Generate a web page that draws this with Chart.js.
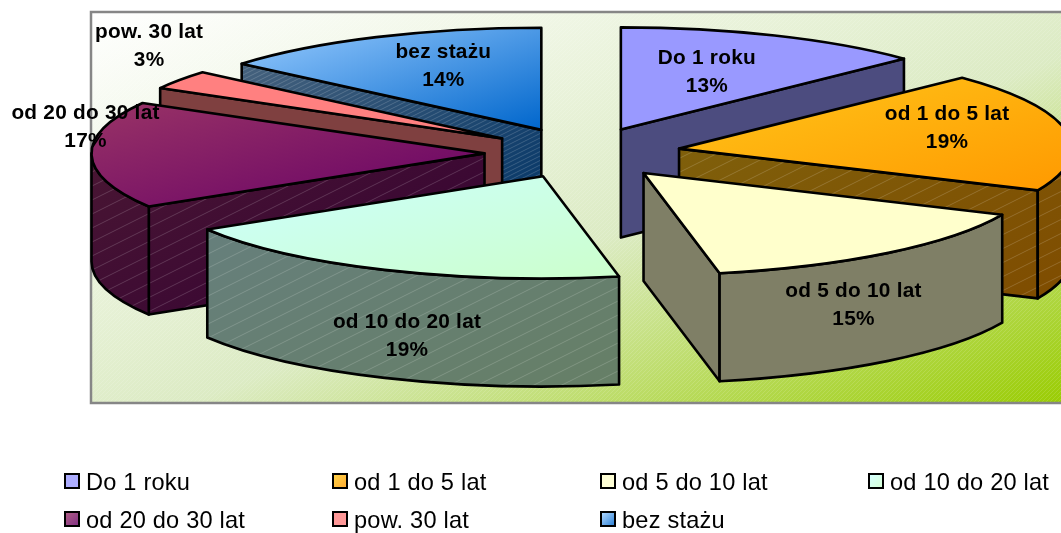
<!DOCTYPE html>
<html><head><meta charset="utf-8">
<script src="https://cdn.jsdelivr.net/npm/chart.js@4"></script>
<style>
html,body{margin:0;padding:0;background:#fff;width:1061px;height:533px;overflow:hidden}
#wrap{position:relative;width:1061px;height:533px}
canvas{position:absolute;left:0;top:0}
#legend{position:absolute;left:0;top:0;font:23.6px "Liberation Sans",Arial,sans-serif;letter-spacing:.2px;color:#000}
.it{position:absolute;white-space:nowrap;line-height:24px;height:24px}
.sw{position:absolute;left:0;top:3px;width:12px;height:12px;border:2.5px solid #000}
.tx{position:absolute;left:22px;top:0}
</style></head><body>
<div id="wrap"><canvas id="c" width="1061" height="533"></canvas><div id="legend"></div></div>
<script>
const categories=["Do 1 roku","od 1 do 5 lat","od 5 do 10 lat","od 10 do 20 lat","od 20 do 30 lat","pow. 30 lat","bez stażu"];
const values=[12.8,18.9,15.2,19.4,16.9,3.0,13.8];
const colorStart=["#9999ff","#ffc61a","#ffffcc","#ccffff","#993366","#ff8080","#99ccff"];
const colorEnd=["#9999ff","#ff9900","#ffffcc","#ccffcc","#660066","#ff8080","#0066cc"];
const hatchStep=[0,28,0,28,28,0,9];
const labelNudge=[[86,-57],[268,-20],[210,132],[-136,160],[-399,-26],[-353,-92],[-98,-64]];

const SQUASH=0.26, DEPTH=108, RADIUS=393, EXPLODE=392;

function halve(hex){const n=parseInt(hex.slice(1),16);
  return `rgb(${(n>>16&255)>>1},${(n>>8&255)>>1},${(n&255)>>1})`;}
function diag(ctx,l,t,r,b,stops){
  const w=r-l,h=b-t,k=2*w*h/(w*w+h*h);
  const g=ctx.createLinearGradient(l,t,l+h*k,t+w*k);
  stops.forEach(s=>g.addColorStop(s[0],s[1]));return g;}
function geom(arc){
  const p=arc.getProps(['x','y','startAngle','endAngle','outerRadius'],true);
  const mid=(p.startAngle+p.endAngle)/2, d=arc.options.offset/4;
  const cx=p.x+Math.cos(mid)*d, cy=p.y+Math.sin(mid)*d*SQUASH;
  const rx=p.outerRadius, ry=rx*SQUASH;
  const pt=a=>[cx+rx*Math.cos(a),cy+ry*Math.sin(a)];
  let xs=[cx],ys=[cy];
  for(let i=0;i<=40;i++){const q=pt(p.startAngle+(p.endAngle-p.startAngle)*i/40);xs.push(q[0]);ys.push(q[1]);}
  return {a:p.startAngle,b:p.endAngle,mid,cx,cy,rx,ry,pt,l:Math.min(...xs),r:Math.max(...xs),t:Math.min(...ys),bt:Math.max(...ys)};
}
function finish(ctx,fill,step){
  ctx.fillStyle=fill;ctx.fill();
  if(step){ctx.save();ctx.clip();ctx.strokeStyle='rgba(255,255,255,.17)';ctx.lineWidth=1;
    ctx.beginPath();
    for(let k=-600;k<1700;k+=step){ctx.moveTo(k,420);ctx.lineTo(k+840,0);}
    ctx.stroke();ctx.restore();}
}
function strokePath(ctx,build){ctx.beginPath();build();ctx.strokeStyle='#000';ctx.lineWidth=2.6;ctx.lineJoin='round';ctx.stroke();}
function drawSlice(ctx,arc,i){
  const g=geom(arc);
  const gW=diag(ctx,g.l,g.t,g.r,g.bt+DEPTH,[[0,halve(colorStart[i])],[1,halve(colorEnd[i])]]);
  const gT=diag(ctx,g.l,g.t,g.r,g.bt,[[0,colorStart[i]],[1,colorEnd[i]]]);
  const face=ang=>{const q=g.pt(ang);const b=()=>{ctx.moveTo(g.cx,g.cy);ctx.lineTo(q[0],q[1]);ctx.lineTo(q[0],q[1]+DEPTH);ctx.lineTo(g.cx,g.cy+DEPTH);ctx.closePath();};
    ctx.beginPath();b();finish(ctx,gW,hatchStep[i]);strokePath(ctx,b);};
  if(-Math.cos(g.a)>1e-6)face(g.a);
  if(Math.cos(g.b)>1e-6)face(g.b);
  const wa=Math.max(g.a,0),wb=Math.min(g.b,Math.PI);
  if(wa<wb){const b=()=>{ctx.ellipse(g.cx,g.cy,g.rx,g.ry,0,wa,wb);ctx.ellipse(g.cx,g.cy+DEPTH,g.rx,g.ry,0,wb,wa,true);ctx.closePath();};
    ctx.beginPath();b();finish(ctx,gW,hatchStep[i]);strokePath(ctx,b);}
  const b=()=>{ctx.moveTo(g.cx,g.cy);ctx.ellipse(g.cx,g.cy,g.rx,g.ry,0,g.a,g.b);ctx.closePath();};
  ctx.beginPath();b();ctx.fillStyle=gT;ctx.fill();strokePath(ctx,b);
}
function dither(ctx){
  const c=document.createElement('canvas');c.width=c.height=4;
  const x=c.getContext('2d');x.fillStyle='rgba(255,255,255,.13)';
  for(let i=0;i<4;i++)x.fillRect(i,3-i,1,1);
  return ctx.createPattern(c,'repeat');
}
const pie3d={id:'pie3d',
  beforeDraw(chart){
    const ctx=chart.ctx,l=91,t=12,r=1075,bt=403;
    ctx.save();
    ctx.fillStyle=diag(ctx,l,t,r,bt,[[0,'#ffffff'],[.55,'#dcebc4'],[1,'#99cc00']]);
    ctx.fillRect(l,t,r-l,bt-t);
    ctx.fillStyle=dither(ctx);ctx.fillRect(l,t,r-l,bt-t);
    ctx.strokeStyle='#868686';ctx.lineWidth=2.5;ctx.strokeRect(l,t,r-l,bt-t);
    ctx.restore();
  },
  beforeDatasetDraw(chart,args){
    const ctx=chart.ctx,arcs=args.meta.data;
    const m=a=>Math.sin((a.startAngle+a.endAngle)/2);
    const order=arcs.map((a,i)=>i).sort((p,q)=>m(arcs[p])-m(arcs[q]));
    ctx.save();
    order.forEach(i=>drawSlice(ctx,arcs[i],i));
    ctx.restore();
    return false;
  },
  afterDatasetsDraw(chart){
    const ctx=chart.ctx,arcs=chart.getDatasetMeta(0).data;
    ctx.save();ctx.fillStyle='#000';ctx.textAlign='center';ctx.textBaseline='middle';
    ctx.font='bold 20.8px "Liberation Sans",Arial,sans-serif';ctx.letterSpacing='0.25px';
    arcs.forEach((arc,i)=>{const g=geom(arc),n=labelNudge[i];
      ctx.fillText(categories[i],g.cx+n[0],g.cy+n[1]-14);
      ctx.fillText(Math.round(values[i])+'%',g.cx+n[0],g.cy+n[1]+14);});
    ctx.restore();
  }
};
const chart=new Chart(document.getElementById('c'),{
  type:'pie',
  data:{labels:categories,datasets:[{data:values,backgroundColor:colorStart,offset:EXPLODE,radius:RADIUS,cutout:'0%',borderColor:'#000',borderWidth:2}]},
  options:{responsive:false,animation:false,events:[],
    layout:{padding:{left:104,right:0,top:0,bottom:227}},
    plugins:{legend:{display:false},tooltip:{enabled:false}}},
  plugins:[pie3d]
});
const legend=document.getElementById('legend');
const columnX=[64,332,600,868],rowY=[470,508];
chart.options.plugins.legend.labels.generateLabels(chart).forEach((it,i)=>{
  const d=document.createElement('div');d.className='it';
  d.style.left=columnX[i%4]+'px';d.style.top=rowY[Math.floor(i/4)]+'px';
  const s=document.createElement('span');s.className='sw';
  s.style.background=`linear-gradient(rgba(255,255,255,.2),rgba(255,255,255,.2)),linear-gradient(135deg,${colorStart[i]},${colorEnd[i]})`;
  const t=document.createElement('span');t.className='tx';t.textContent=it.text;
  d.append(s,t);legend.append(d);
});
</script></body></html>
